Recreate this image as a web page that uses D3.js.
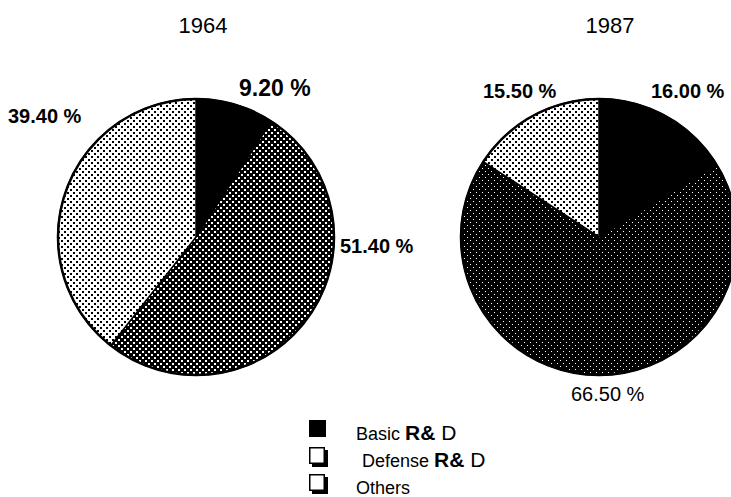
<!DOCTYPE html>
<html>
<head>
<meta charset="utf-8">
<script src="https://cdn.jsdelivr.net/npm/d3@7"></script>
<style>
  html, body { margin: 0; padding: 0; background: #fff; }
  svg { display: block; }
  text { font-family: "Liberation Sans", Arial, Helvetica, sans-serif; fill: #000; }
</style>
</head>
<body>
<script>
// R&D spending shares, 1964 vs 1987
const categories = ["Basic R& D", "Defense R& D", "Others"];
const years = ["1964", "1987"];
const shares1964 = [9.2, 51.4, 39.4];
const shares1987 = [16.0, 66.5, 15.5];

const W = 731, H = 497;
const svg = d3.select("body").append("svg")
  .attr("width", W).attr("height", H)
  .attr("viewBox", `0 0 ${W} ${H}`);

svg.append("rect").attr("width", W).attr("height", H).attr("fill", "#fff");

// Stipple fills: two dots per tile on a diagonal lattice
const defs = svg.append("defs");
function stipple(id, bg, fg, size, dot) {
  const p = defs.append("pattern")
    .attr("id", id).attr("patternUnits", "userSpaceOnUse")
    .attr("width", size).attr("height", size);
  p.append("rect").attr("width", size).attr("height", size).attr("fill", bg);
  p.append("rect").attr("x", 0).attr("y", 0).attr("width", dot).attr("height", dot).attr("fill", fg);
  p.append("rect").attr("x", size / 2).attr("y", size / 2).attr("width", dot).attr("height", dot).attr("fill", fg);
}
stipple("dots-light", "#fff", "#000", 6, 2);
stipple("dots-dark", "#000", "#fff", 6, 2);
stipple("dots-darker", "#000", "#fff", 6, 1);

const fills = {
  "1964": ["#000", "url(#dots-dark)", "url(#dots-light)"],
  "1987": ["#000", "url(#dots-darker)", "url(#dots-light)"]
};

const R = 138;
const layout = {
  "1964": {
    cx: 196, cy: 237, titleX: 203,
    labels: [
      { dx: 43, dy: -141, size: 23, weight: "bold" },
      { dx: 144, dy: 16, size: 20, weight: "bold" },
      { dx: -188, dy: -114, size: 20, weight: "bold" }
    ]
  },
  "1987": {
    cx: 599, cy: 237, titleX: 610,
    labels: [
      { dx: 52, dy: -139, size: 20, weight: "bold" },
      { dx: -28, dy: 164, size: 20, weight: "normal" },
      { dx: -116, dy: -139, size: 20, weight: "bold" }
    ]
  }
};

const pie = d3.pie().sort(null).value(d => d);
const arc = d3.arc().innerRadius(0).outerRadius(R);
const fmt = d3.format(".2f");

[[years[0], shares1964], [years[1], shares1987]].forEach(([year, values]) => {
  const L = layout[year];
  const g = svg.append("g").attr("transform", `translate(${L.cx},${L.cy})`);

  g.selectAll("path.slice")
    .data(pie(values))
    .join("path")
    .attr("class", "slice")
    .attr("d", arc)
    .attr("fill", (d, i) => fills[year][i])
    .attr("stroke", "#000")
    .attr("stroke-width", 1.5)
    .attr("stroke-linejoin", "round");

  g.append("circle").attr("r", R).attr("fill", "none")
    .attr("stroke", "#000").attr("stroke-width", 2.5);

  g.selectAll("text.pct")
    .data(values)
    .join("text")
    .attr("class", "pct")
    .attr("x", (d, i) => L.labels[i].dx)
    .attr("y", (d, i) => L.labels[i].dy)
    .attr("font-size", (d, i) => L.labels[i].size)
    .attr("font-weight", (d, i) => L.labels[i].weight)
    .text(d => `${fmt(d)} %`);

  svg.append("text")
    .attr("x", L.titleX).attr("y", 33)
    .attr("text-anchor", "middle")
    .attr("font-size", 22)
    .text(year);
});

// Legend
const legend = svg.append("g").attr("transform", "translate(309,420)");
const rowH = 27;
const items = legend.selectAll("g.item")
  .data(categories)
  .join("g")
  .attr("class", "item")
  .attr("transform", (d, i) => `translate(0,${i * rowH})`);

items.each(function (d, i) {
  const it = d3.select(this);
  if (i === 0) {
    it.append("rect").attr("x", 0).attr("y", 0).attr("width", 17).attr("height", 17).attr("fill", "#000");
  } else {
    it.append("rect").attr("x", 3).attr("y", 3).attr("width", 16).attr("height", 17).attr("fill", "#000");
    it.append("rect").attr("x", 0.75).attr("y", 0.75).attr("width", 14.5).attr("height", 15.5)
      .attr("fill", "#fff").attr("stroke", "#000").attr("stroke-width", 1.5);
  }
  const name = d.replace(" R& D", "");
  const t = it.append("text")
    .attr("x", i === 1 ? 53 : 47)
    .attr("y", 20)
    .attr("font-size", 18);
  t.append("tspan").text(name + " ");
  if (d.includes("R& D")) {
    t.append("tspan").attr("font-size", 21).attr("font-weight", "bold").text("R&");
    t.append("tspan").attr("font-size", 21).text(" D");
  }
});
</script>
</body>
</html>
